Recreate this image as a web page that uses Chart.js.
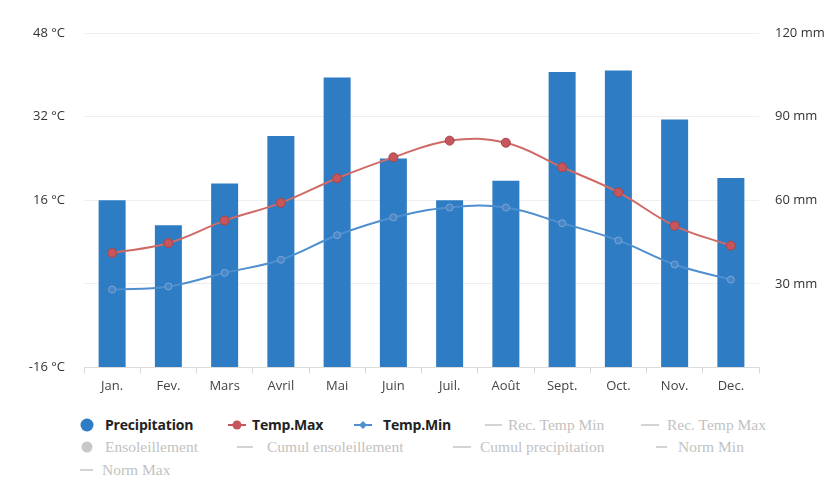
<!DOCTYPE html>
<html>
<head>
<meta charset="utf-8">
<script src="https://cdn.jsdelivr.net/npm/chart.js@4.4.1/dist/chart.umd.min.js"></script>
<style>
  html, body { margin: 0; padding: 0; background: #fff; }
  #wrap { position: relative; width: 831px; height: 493px; overflow: hidden; }
  #box { position: absolute; left: 0; top: 0; width: 831px; height: 403px; }
  .it { position: absolute; display: flex; align-items: center; height: 20px; white-space: nowrap; }
  .it svg { position: absolute; top: 3px; }
  .it span { position: absolute; top: 0; line-height: 20px; }
  .on span { font-family: "Open Sans", "DejaVu Sans", sans-serif; font-weight: bold; font-size: 14px; color: #222; letter-spacing: -0.2px; }
  .off span { font-family: "Liberation Serif", "DejaVu Serif", serif; font-size: 15.5px; color: #c2c2c2; }
</style>
</head>
<body>
<div id="wrap">
  <div id="box"><canvas id="c"></canvas></div>
  <div id="legend"></div>
</div>
<script>
const months = ["Jan.", "Fev.", "Mars", "Avril", "Mai", "Juin", "Juil.", "Août", "Sept.", "Oct.", "Nov.", "Dec."];
const precipitation = [60, 51, 66, 83, 104, 75, 60, 67, 106, 106.5, 89, 68];
const tempMax = [5.9, 7.8, 12.1, 15.5, 20.2, 24.2, 27.4, 27.0, 22.3, 17.5, 11.1, 7.3];
const tempMin = [-1.1, -0.5, 2.1, 4.6, 9.3, 12.7, 14.6, 14.6, 11.6, 8.3, 3.7, 0.8];
const tempTicks = [-16, 0, 16, 32, 48];
const rainTicks = [0, 30, 60, 90, 120];
const shownSeries = ["Precipitation", "Temp.Max", "Temp.Min"];
const hiddenSeries = ["Rec. Temp Min", "Rec. Temp Max", "Ensoleillement", "Cumul ensoleillement", "Cumul precipitation", "Norm Min", "Norm Max"];

const tickFont = { family: "'Open Sans', 'DejaVu Sans', sans-serif", size: 13 };

new Chart(document.getElementById('c'), {
  data: {
    labels: months,
    datasets: [
      { type: 'bar', label: shownSeries[0], data: precipitation, yAxisID: 'yR',
        backgroundColor: '#2e7cc3', categoryPercentage: 0.8, barPercentage: 0.6, order: 3 },
      { type: 'line', label: shownSeries[1], data: tempMax, yAxisID: 'yL',
        borderColor: '#cf6a66', borderWidth: 2, tension: 0.4, pointRadius: 4.5,
        pointBackgroundColor: '#c4565c', pointBorderColor: '#a8444a', pointBorderWidth: 1, order: 1 },
      { type: 'line', label: shownSeries[2], data: tempMin, yAxisID: 'yL',
        borderColor: '#4f8fcf', borderWidth: 2, tension: 0.4, pointRadius: 3.5,
        pointBackgroundColor: '#4a86c6', pointBorderColor: '#7aa6d6', pointBorderWidth: 1, order: 2 }
    ]
  },
  options: {
    responsive: true, maintainAspectRatio: false, animation: false,
    layout: { padding: { top: 33, bottom: 4, left: 0, right: 0 } },
    plugins: { legend: { display: false }, tooltip: { enabled: false } },
    scales: {
      x: {
        offset: true,
        grid: { offset: true, drawOnChartArea: false, color: '#d8d8d8', tickLength: 6 },
        border: { color: '#dcdcdc' },
        ticks: { color: '#444', font: tickFont, padding: 5, maxRotation: 0 }
      },
      yL: {
        position: 'left', min: -16, max: 48,
        afterBuildTicks: s => { s.ticks = tempTicks.map(v => ({ value: v })); },
        afterFit: s => { s.width = 84; },
        grid: { color: '#efefef', drawTicks: false },
        border: { display: false },
        ticks: { color: '#333', font: tickFont, padding: 19,
          callback: v => v === 0 ? '' : v + ' °C' }
      },
      yR: {
        position: 'right', min: 0, max: 120,
        afterBuildTicks: s => { s.ticks = rainTicks.map(v => ({ value: v })); },
        afterFit: s => { s.width = 72; },
        grid: { drawOnChartArea: false, drawTicks: false },
        border: { display: false },
        ticks: { color: '#333', font: tickFont, padding: 16,
          callback: v => v === 0 ? '' : v + ' mm' }
      }
    }
  }
});

// HTML legend (entries mirror the series names above)
const legend = document.getElementById('legend');
function circle(col, r) { return `<svg width="14" height="14" style="left:-7px"><circle cx="7" cy="7" r="${r}" fill="${col}"/></svg>`; }
function lineMk(col, w, dot, diamond) {
  let m = '';
  const c = w / 2;
  if (dot) m = `<circle cx="${c}" cy="7" r="4.5" fill="${col}"/>`;
  if (diamond) m = `<path d="M${c} 3 L${c + 4} 7 L${c} 11 L${c - 4} 7 Z" fill="${col}"/>`;
  return `<svg width="${w}" height="14" style="left:0"><line x1="0" y1="7" x2="${w}" y2="7" stroke="${col}" stroke-width="2"/>${m}</svg>`;
}
const grey = '#d4d4d4';
const items = [
  { mk: circle('#2e7cc3', 6.5), mx: 87, tx: 105, y: 415, label: shownSeries[0], on: true },
  { mk: lineMk('#c4565c', 18, true), mx: 228, tx: 252, y: 415, label: shownSeries[1], on: true },
  { mk: lineMk('#4f8fcf', 18, false, true), mx: 354, tx: 383, y: 415, label: shownSeries[2], on: true },
  { mk: lineMk(grey, 17), mx: 485, tx: 508, y: 415, label: hiddenSeries[0] },
  { mk: lineMk(grey, 18), mx: 641, tx: 667, y: 415, label: hiddenSeries[1] },
  { mk: circle('#c8c8c8', 5.5), mx: 87, tx: 105, y: 437, label: hiddenSeries[2] },
  { mk: lineMk(grey, 16), mx: 237, tx: 267, y: 437, label: hiddenSeries[3] },
  { mk: lineMk(grey, 18), mx: 453, tx: 480, y: 437, label: hiddenSeries[4] },
  { mk: lineMk(grey, 11), mx: 656, tx: 678, y: 437, label: hiddenSeries[5] },
  { mk: lineMk(grey, 13), mx: 80, tx: 102, y: 460, label: hiddenSeries[6] }
];
items.forEach(it => {
  const d = document.createElement('div');
  d.className = 'it ' + (it.on ? 'on' : 'off');
  d.style.left = it.mx + 'px';
  d.style.top = it.y + 'px';
  d.innerHTML = it.mk + `<span style="left:${it.tx - it.mx}px">${it.label}</span>`;
  legend.appendChild(d);
});
</script>
</body>
</html>
